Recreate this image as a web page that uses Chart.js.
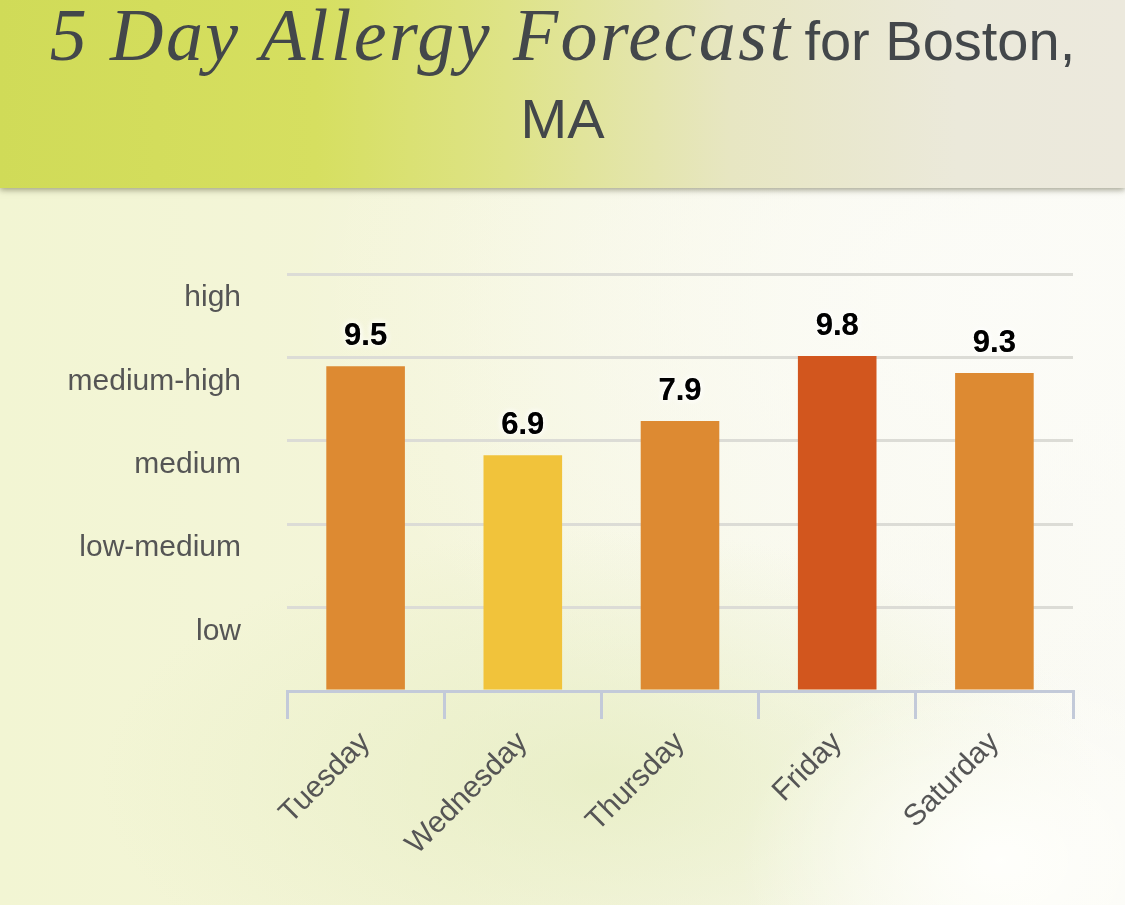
<!DOCTYPE html>
<html lang="en">
<head>
  <meta charset="UTF-8" />
  <title>5 Day Allergy Forecast</title>
  <script src="https://cdn.jsdelivr.net/npm/chart.js"></script>
  <style>
    html, body { margin: 0; padding: 0; }
    body {
      width: 1125px; height: 905px; position: relative; overflow: hidden;
      background:
        radial-gradient(ellipse 260px 200px at 1000px 860px, rgba(255,255,252,0.95), rgba(255,255,252,0) 100%),
        radial-gradient(ellipse 500px 250px at 600px 780px, rgba(228,236,190,0.7), rgba(228,236,190,0) 100%),
        radial-gradient(ellipse 700px 500px at 1000px 300px, rgba(252,252,248,0.9), rgba(252,252,248,0) 100%),
        linear-gradient(to right, #f2f5d3 0%, #f4f5da 40%, #f8f8ec 75%, #fafaf4 100%);
    }
    .header {
      position: absolute; left: 0; top: 0; width: 1125px; height: 188px;
      background: linear-gradient(to right, #d0db58 0%, #d6df60 28%, #dee387 45%, #e7e6c2 65%, #ebe9da 85%, #ece9dd 100%);
      box-shadow: 0 2px 6px rgba(90, 90, 60, 0.55);
    }
    .line {
      position: absolute; left: 0; width: 1125px; height: 80px;
      text-align: center; color: #43474a; line-height: 80px; white-space: nowrap;
    }
    .serif { font-family: "Liberation Serif", serif; font-style: italic; font-size: 74px; letter-spacing: 2.4px; }
    .sans { font-family: "Liberation Sans", Arial, sans-serif; font-size: 56px; }
    .gap { margin-left: 8px; }
    #wrap { position: absolute; left: 0; top: 0; width: 1125px; height: 905px; }
  </style>
</head>
<body>
  <div class="header"></div>
  <div class="line" style="top: -5px;"><span class="serif">5 Day Allergy Forecast</span> <span class="sans gap">for Boston,</span></div>
  <div class="line" style="top: 79px;"><span class="sans">MA</span></div>
  <div id="wrap"><canvas id="allergyChart" width="1125" height="905"></canvas></div>

  <script>
    // forecast data
    const days = ['Tuesday', 'Wednesday', 'Thursday', 'Friday', 'Saturday'];
    const pollenIndex = [9.5, 6.9, 7.9, 9.8, 9.3];
    const barColors = ['#dd8a32', '#f1c33b', '#dd8a32', '#d2561e', '#dd8a32'];
    const levelLabels = ['low', 'low-medium', 'medium', 'medium-high', 'high'];
    const yMax = 12.2;

    const step = yMax / levelLabels.length;

    // value labels above the bars
    const valueLabels = {
      id: 'valueLabels',
      afterDatasetsDraw(chart) {
        const ctx = chart.ctx;
        const meta = chart.getDatasetMeta(0);
        ctx.save();
        ctx.font = 'bold 31px "Liberation Sans", Arial, sans-serif';
        ctx.textAlign = 'center';
        ctx.textBaseline = 'alphabetic';
        meta.data.forEach((bar, i) => {
          const txt = pollenIndex[i].toFixed(1);
          ctx.shadowColor = 'rgba(255,255,255,0.95)';
          ctx.shadowBlur = 6;
          ctx.fillStyle = '#000';
          ctx.fillText(txt, bar.x, bar.y - 21);
          ctx.fillText(txt, bar.x, bar.y - 21);
        });
        ctx.restore();
      }
    };

    const ctx = document.getElementById('allergyChart').getContext('2d');
    new Chart(ctx, {
      type: 'bar',
      data: {
        labels: days,
        datasets: [{
          data: pollenIndex,
          backgroundColor: barColors,
          borderWidth: 0,
          categoryPercentage: 1.0,
          barPercentage: 0.5
        }]
      },
      options: {
        responsive: false,
        animation: false,
        devicePixelRatio: 1,
        layout: { padding: { top: 274, right: 52, left: 0, bottom: 0 } },
        plugins: {
          legend: { display: false },
          tooltip: { enabled: false }
        },
        scales: {
          x: {
            afterFit: s => { s.height = 214; },
            grid: {
              offset: true,
              drawOnChartArea: false,
              color: '#c3cad9',
              lineWidth: 3,
              tickLength: 28
            },
            border: { color: '#c3cad9', width: 3 },
            ticks: {
              minRotation: 45,
              maxRotation: 45,
              padding: 6,
              color: '#555',
              font: { family: '"Liberation Sans", Arial, sans-serif', size: 30 }
            }
          },
          y: {
            min: 0,
            max: yMax,
            afterFit: s => { s.width = 287; },
            afterBuildTicks: axis => {
              const t = [];
              for (let i = 0; i <= levelLabels.length; i++) t.push({ value: i * step });
              axis.ticks = t;
            },
            grid: {
              color: '#dcdcd6',
              lineWidth: 3,
              drawTicks: false
            },
            border: { display: false },
            ticks: {
              padding: 46,
              labelOffset: 24,
              color: '#555',
              font: { family: '"Liberation Sans", Arial, sans-serif', size: 30 },
              callback: (v, i) => i === 0 ? '' : levelLabels[i - 1]
            }
          }
        }
      },
      plugins: [valueLabels]
    });
  </script>
</body>
</html>
